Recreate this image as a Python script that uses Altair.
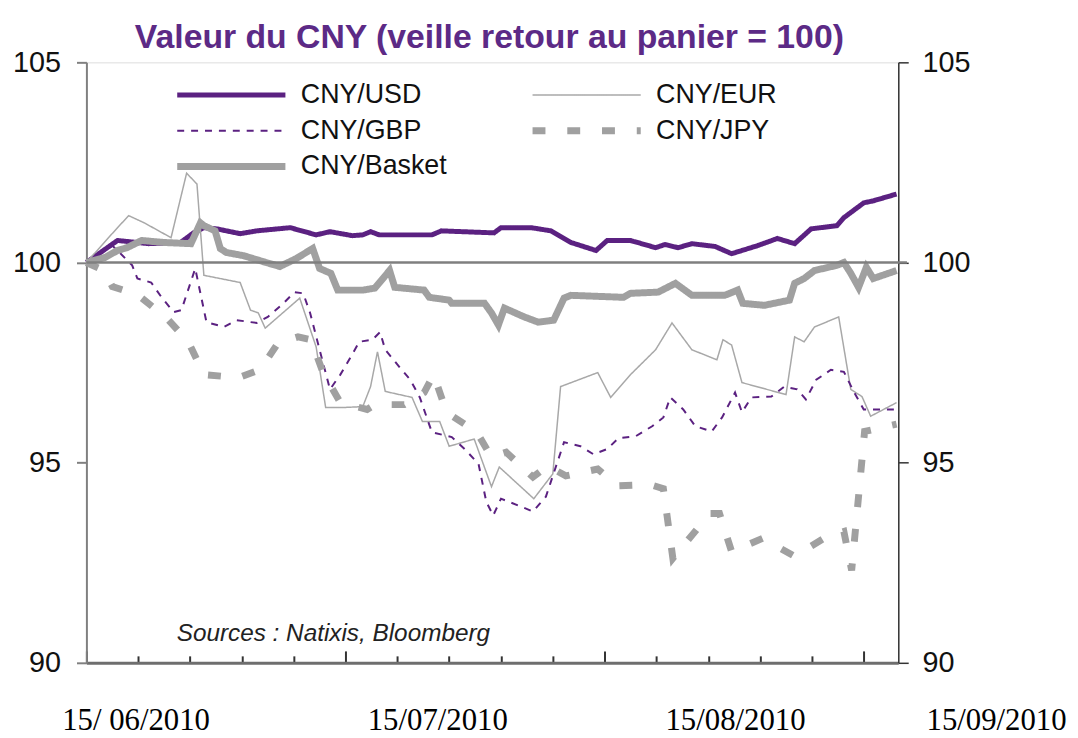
import altair as alt
import pandas as pd

title_text = "Valeur du CNY (veille retour au panier = 100)"
source_text = "Sources :  Natixis, Bloomberg"
series_names = ["CNY/USD", "CNY/EUR", "CNY/GBP", "CNY/JPY", "CNY/Basket"]
date_labels = ["15/ 06/2010", "15/07/2010", "15/08/2010", "15/09/2010"]
y_ticks = [90, 95, 100, 105]
x_ticks = list(range(0, 94, 3))

usd_day = [0, 3.6, 7.2, 10.9, 12.4, 13.6, 15.1, 17.8, 19.7, 23.6, 26.6, 28.2, 30.8, 32.0, 32.9, 33.9,
           40.0, 41.1, 47.2, 48.0, 51.5, 53.8, 56.1, 59.0, 60.3, 63.0, 65.9, 67.0, 68.5, 70.1, 72.8,
           74.7, 77.7, 80.0, 82.0, 83.9, 86.9, 87.7, 90.0, 91.1, 93.8]
usd_val = [100.00, 100.55, 100.47, 100.50, 100.74, 100.87, 100.84, 100.72, 100.79, 100.87, 100.69,
           100.77, 100.67, 100.69, 100.77, 100.69, 100.69, 100.79, 100.74, 100.87, 100.87, 100.79,
           100.50, 100.30, 100.55, 100.55, 100.37, 100.45, 100.37, 100.47, 100.40, 100.22, 100.42,
           100.60, 100.47, 100.84, 100.92, 101.12, 101.49, 101.54, 101.71]

eur_day = [0, 3.6, 4.9, 6.7, 9.8, 11.6, 12.8, 13.6, 17.8, 19.0, 19.9, 20.7, 24.7, 26.6, 27.7, 30.0,
           32.0, 32.9, 33.7, 34.6, 37.7, 38.9, 40.9, 42.0, 44.9, 46.9, 47.8, 51.8, 54.0, 54.9, 59.2,
           60.7, 63.0, 65.9, 67.8, 70.1, 73.0, 73.7, 74.7, 75.9, 81.0, 82.0, 83.1, 84.3, 87.1, 88.5,
           89.8, 90.8, 93.8]
eur_val = [100.00, 100.87, 101.17, 100.99, 100.62, 102.23, 101.96, 99.68, 99.50, 98.81, 98.74, 98.36,
           99.11, 97.89, 96.38, 96.38, 96.40, 96.90, 97.77, 96.78, 96.63, 96.03, 96.03, 95.41, 95.59,
           94.40, 94.89, 94.10, 94.72, 96.90, 97.25, 96.63, 97.20, 97.82, 98.49, 97.82, 97.57, 98.07,
           97.94, 97.00, 96.70, 98.14, 98.02, 98.39, 98.64, 96.83, 96.65, 96.16, 96.50]

gbp_day = [0, 3.0, 3.6, 5.3, 5.9, 7.5, 8.7, 10.1, 11.0, 12.6, 13.9, 15.9, 17.4, 19.7, 21.0, 22.8,
           24.1, 25.1, 25.9, 27.0, 28.2, 29.4, 30.6, 31.6, 33.1, 34.0, 34.6, 36.2, 37.5, 38.6, 40.0,
           42.3, 43.8, 45.4, 46.3, 47.1, 48.0, 50.0, 51.7, 53.2, 54.0, 55.3, 57.2, 58.7, 60.3, 61.6,
           63.6, 65.5, 66.8, 67.6, 69.1, 70.5, 72.4, 73.6, 75.1, 75.9, 77.0, 79.3, 80.8, 82.3, 83.3,
           84.5, 86.2, 87.7, 88.9, 90.0, 93.8]
gbp_val = [100.00, 100.42, 100.30, 99.93, 99.60, 99.50, 99.13, 98.76, 98.81, 99.85, 98.51, 98.39,
           98.56, 98.49, 98.64, 98.98, 99.26, 99.23, 98.74, 97.82, 96.83, 97.20, 97.64, 98.02, 98.07,
           98.26, 97.82, 97.40, 97.07, 96.63, 95.76, 95.64, 95.34, 94.97, 94.02, 93.68, 94.10, 93.93,
           93.78, 94.15, 94.67, 95.51, 95.41, 95.21, 95.34, 95.61, 95.66, 95.91, 96.13, 96.63, 96.33,
           95.91, 95.78, 96.13, 96.75, 96.26, 96.63, 96.65, 96.90, 96.83, 96.58, 97.07, 97.32, 97.27,
           96.75, 96.33, 96.33]

jpy_day = [0, 2.0, 3.0, 5.9, 9.3, 11.8, 13.6, 17.6, 20.1, 22.2, 24.5, 26.0, 27.4, 29.4, 32.5, 33.4,
           36.8, 39.1, 40.2, 41.7, 45.2, 46.9, 48.6, 51.7, 53.4, 55.5, 59.2, 61.5, 65.3, 66.8, 67.9,
           72.2, 73.3, 74.7, 78.3, 82.0, 85.4, 87.7, 88.6, 90.1, 93.8]
jpy_val = [100.00, 99.80, 99.40, 99.20, 98.61, 98.02, 97.20, 97.12, 97.32, 97.99, 98.14, 98.07, 97.25,
           96.50, 96.33, 96.45, 96.45, 96.75, 97.20, 96.26, 95.76, 95.14, 95.26, 94.64, 94.92, 94.67,
           94.84, 94.42, 94.45, 94.35, 92.61, 93.73, 93.73, 92.78, 93.11, 92.66, 93.11, 93.28, 92.31,
           95.78, 95.96]

bsk_day = [0, 2.1, 3.6, 4.7, 6.4, 9.0, 12.1, 13.2, 13.6, 14.9, 15.5, 16.2, 18.2, 20.8, 22.4, 24.3,
           26.2, 26.6, 27.0, 28.3, 29.1, 32.0, 33.4, 35.1, 35.7, 39.1, 39.7, 42.0, 42.3, 46.1, 46.9,
           47.7, 48.4, 50.7, 52.3, 54.1, 55.3, 56.1, 62.2, 63.0, 66.2, 68.2, 70.1, 73.9, 75.4, 76.0,
           78.5, 81.4, 82.0, 83.1, 84.3, 86.9, 87.7, 88.5, 89.4, 90.3, 91.1, 93.8]
bsk_val = [100.00, 100.12, 100.30, 100.37, 100.55, 100.50, 100.47, 100.99, 100.92, 100.79, 100.35,
           100.25, 100.17, 100.00, 99.90, 100.10, 100.35, 100.10, 99.85, 99.73, 99.31, 99.31, 99.36,
           99.80, 99.38, 99.31, 99.13, 99.06, 98.98, 98.98, 98.74, 98.44, 98.86, 98.64, 98.51, 98.56,
           99.11, 99.18, 99.13, 99.23, 99.26, 99.48, 99.18, 99.18, 99.31, 98.98, 98.93, 99.06, 99.48,
           99.60, 99.80, 99.93, 100.00, 99.73, 99.38, 99.88, 99.60, 99.80]

rows = []
for name, days, vals in zip(series_names,
                            [usd_day, eur_day, gbp_day, jpy_day, bsk_day],
                            [usd_val, eur_val, gbp_val, jpy_val, bsk_val]):
    for d, v in zip(days, vals):
        rows.append({"serie": name, "jour": d, "valeur": v})
df = pd.DataFrame(rows)

PURPLE = "#5b2181"
GREY = "#a0a0a0"
colors = [PURPLE, "#a8a8a8", PURPLE, GREY, GREY]
dashes = [[1, 0], [1, 0], [7, 7], [13, 22], [1, 0]]
widths = [5, 1.5, 2, 7, 7]

W, H = 818, 605
x_scale = alt.Scale(domain=[0, 94], nice=False, zero=False)
y_scale = alt.Scale(domain=[90, 105], nice=False, zero=False)

x_axis = alt.Axis(orient="top", offset=-H, values=x_ticks, labels=False, title=None, grid=False,
                  tickSize={"condition": {"test": "datum.value % 15 === 0", "value": 12}, "value": 7},
                  tickColor="#333333", tickWidth=2, domainColor="#6e6e6e", domainWidth=3)
y_axis_left = alt.Axis(orient="left", values=y_ticks, title=None, grid=False, tickSize=10,
                       tickColor="#808080", tickWidth=2, domainColor="#808080", domainWidth=2,
                       labelFont="Liberation Sans", labelFontSize=29, labelColor="#111111",
                       labelPadding=16)
y_axis_right = alt.Axis(orient="right", values=y_ticks, title=None, grid=False, tickSize=10,
                        tickColor="#333333", tickWidth=1.5, domainColor="#333333", domainWidth=1.5,
                        labelFont="Liberation Sans", labelFontSize=29, labelColor="#111111",
                        labelPadding=14)

legend = alt.Legend(title=None, orient="none", legendX=88, legendY=20, columns=2, columnPadding=82,
                    direction="horizontal", rowPadding=9, symbolType="stroke", symbolSize=109 * 109,
                    clipHeight=26, labelFont="Liberation Sans", labelFontSize=27, labelColor="#111111",
                    labelOffset=12, padding=0)

lines = alt.Chart(df).mark_line(clip=False).encode(
    x=alt.X("jour:Q", scale=x_scale, axis=x_axis),
    y=alt.Y("valeur:Q", scale=y_scale, axis=y_axis_left),
    color=alt.Color("serie:N", scale=alt.Scale(domain=series_names, range=colors), legend=legend),
    strokeDash=alt.StrokeDash("serie:N", scale=alt.Scale(domain=series_names, range=dashes), legend=legend),
    strokeWidth=alt.StrokeWidth("serie:N", scale=alt.Scale(type="ordinal", domain=series_names, range=widths),
                                legend=legend),
)

ref_line = alt.Chart(alt.Data(values=[{}])).mark_rule(color="#7f7f7f", strokeWidth=2.5, clip=False).encode(
    x=alt.XDatum(0),
    x2=alt.X2Datum(95),
    y=alt.YDatum(100, scale=y_scale, axis=y_axis_right),
)

one = alt.Data(values=[{}])
title_mark = alt.Chart(one).mark_text(
    text=title_text, font="Liberation Sans", fontSize=34, fontWeight="bold", color="#5c2a86",
    align="center", baseline="alphabetic").encode(x=alt.value(W / 2 - 3), y=alt.value(-14))

source_mark = alt.Chart(one).mark_text(
    text=source_text, font="Liberation Sans", fontSize=24.5, fontStyle="italic", color="#222222",
    align="left", baseline="alphabetic").encode(x=alt.value(91), y=alt.value(583))

date_pos = [50, 354, 654, 917]
date_marks = [
    alt.Chart(one).mark_text(text=lab, font="Liberation Serif", fontSize=31, color="#000000",
                             align="center", baseline="alphabetic").encode(x=alt.value(p), y=alt.value(673))
    for lab, p in zip(date_labels, date_pos)
]

chart = alt.layer(lines, ref_line, title_mark, source_mark, *date_marks).resolve_axis(
    y="independent"
).properties(
    width=W, height=H,
    padding={"left": 79, "top": 52, "right": 173, "bottom": 73},
    autosize=alt.AutoSizeParams(type="none"),
).configure_view(stroke=None).configure(background="white")

chart.save("out.html", embed_options={"renderer": "svg", "actions": False})
